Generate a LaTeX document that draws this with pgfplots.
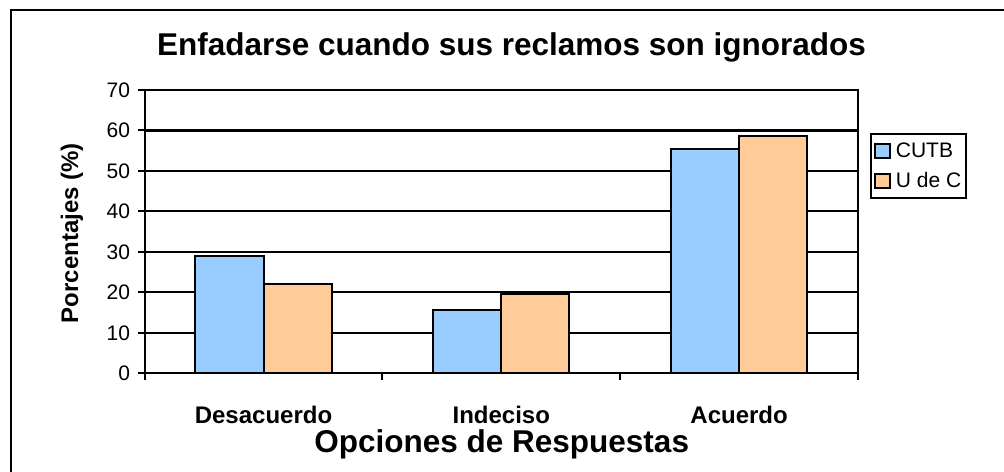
\documentclass[border=0pt]{standalone}
\usepackage{pgfplots}
\pgfplotsset{compat=1.18}
\usepackage{fontspec}
\setmainfont{Liberation Sans}
\definecolor{cutb}{HTML}{99CCFF}
\definecolor{udec}{HTML}{FFCC99}
\begin{document}
\begin{tikzpicture}[x=1bp,y=1bp]
\useasboundingbox (0,0) rectangle (1004,472);
\fill[white] (0,0) rectangle (1004,472);
\draw[line width=2.2bp] (11,-5) -- (11,462) -- (1010,462);
\node[anchor=base, font=\fontsize{31.5bp}{36bp}\selectfont\bfseries] at (511.5,416) {Enfadarse cuando sus reclamos son ignorados};
\begin{axis}[
  at={(144.6bp,98.7bp)}, anchor=south west,
  scale only axis, width=713.4bp, height=283.3bp,
  xmin=-0.5, xmax=2.5, ymin=0, ymax=70,
  ytick={0,10,...,70},
  xtick={-0.5,0.5,1.5,2.5}, xticklabels={},
  extra x ticks={0,1,2},
  extra x tick labels={Desacuerdo,Indeciso,Acuerdo},
  extra x tick style={major tick length=0pt, xticklabel style={anchor=base, yshift=-50bp, font=\fontsize{24bp}{28bp}\selectfont\bfseries}},
  tick pos=left,
  ymajorgrids, grid style={black, line width=2.1bp},
  axis line style={line width=2.2bp},
  tick align=outside, major tick length=7bp,
  tick style={black, line width=2bp},
  ticklabel style={font=\fontsize{21bp}{24bp}\selectfont},
  /pgf/number format/assume math mode=true,
  yticklabel style={anchor=east, xshift=-4bp},
  ybar=0pt, bar width=0.2864,
  ylabel={Porcentajes (\%)},
  ylabel style={at={(axis description cs:-0.1018,0.495)}, anchor=center, font=\fontsize{24bp}{28bp}\selectfont\bfseries},
  xlabel={Opciones de Respuestas},
  xlabel style={at={(axis description cs:0.5006,-0.278)}, anchor=base, font=\fontsize{31.5bp}{36bp}\selectfont\bfseries},
  legend style={at={(axis description cs:1.0168,0.848)}, anchor=north west, draw=black,
    font=\fontsize{21bp}{24bp}\selectfont, inner xsep=3bp, inner ysep=7bp, row sep=9bp,
    /tikz/every odd column/.append style={column sep=3bp}},
  every axis legend/.append style={line width=2.2bp},
  legend cell align=left,
  legend image code/.code={\filldraw[#1, draw=black, line width=1.8bp] (0bp,-7bp) rectangle (15bp,7bp);},
]
\addplot[fill=cutb, draw=black, line width=2bp] coordinates {(0,29.0) (1,15.7) (2,55.3)};
\addlegendentry{CUTB}
\addplot[fill=udec, draw=black, line width=2bp] coordinates {(0,22.0) (1,19.6) (2,58.6)};
\addlegendentry{U de C}
\end{axis}
\end{tikzpicture}
\end{document}
